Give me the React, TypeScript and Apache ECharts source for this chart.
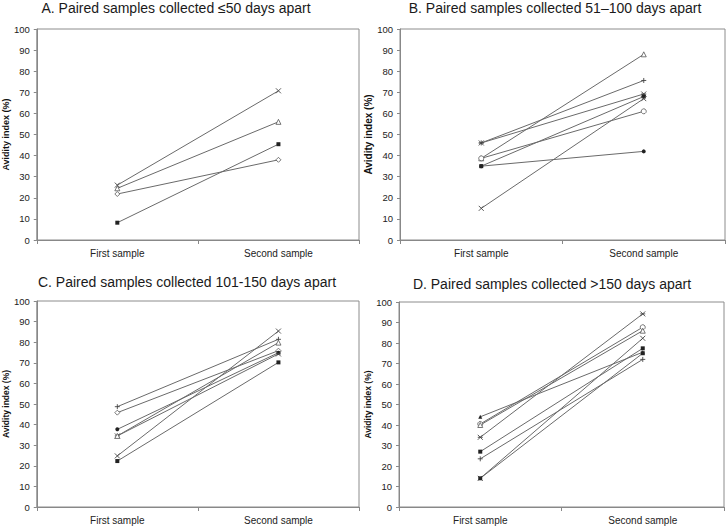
import React, { useEffect, useRef } from 'react';
import * as echarts from 'echarts';

const categories = ['First sample', 'Second sample'];
const yMin = 0;
const yMax = 100;
const yStep = 10;
const yAxisName = 'Avidity index (%)';

const titles = [
  'A. Paired samples collected ≤50 days apart',
  'B. Paired samples collected 51–100 days apart',
  'C. Paired samples collected 101-150 days apart',
  'D. Paired samples collected >150 days apart',
];

// Panel A (<=50 days)
const aCross = [26, 70.7];
const aTriangle = [24.5, 56];
const aDiamond = [21.8, 38];
const aSquare = [8.2, 45.4];

// Panel B (51-100 days)
const bPlus = [46, 75.6];
const bStar = [46, 69.2];
const bTriangle = [38.7, 88];
const bCircle = [38.7, 61];
const bSquare = [35, 68];
const bDot = [35, 42];
const bCross = [15, 67];

// Panel C (101-150 days)
const cPlus = [48.7, 81.4];
const cDiamond = [45.8, 75.9];
const cDot = [37.7, 74.9];
const cStar = [34.5, 74.3];
const cTriangle = [34.5, 79.8];
const cCross = [24.8, 85.4];
const cSquare = [22.3, 70.2];

// Panel D (>150 days)
const dTriangleFilled = [44, 75.5];
const dCircle = [40.5, 87.7];
const dTriangle = [40, 86];
const dStar = [34, 94.2];
const dSquare = [27, 77.4];
const dPlus = [23.5, 72];
const dCross = [14, 82.3];
const dSquare2 = [14, 75];

const SYM: Record<string, string> = {
  cross: 'path://M0,0L10,10M10,0L0,10',
  plus: 'path://M5,0L5,10M0,5L10,5',
  star: 'path://M0,0L10,10M10,0L0,10M0,5L10,5',
  square: 'rect',
  dot: 'circle',
  triFilled: 'triangle',
  circle: 'path://M5,0A5,5,0,1,1,4.99,0Z',
  triangle: 'path://M5,0L10,10L0,10Z',
  diamond: 'path://M5,0L10,5L5,10L0,5Z',
};
const HOLLOW = ['circle', 'triangle', 'diamond'];
const FILLED = ['square', 'dot', 'triFilled'];

const panels: { data: number[]; sym: string }[][] = [
  [
    { data: aCross, sym: 'cross' },
    { data: aTriangle, sym: 'triangle' },
    { data: aDiamond, sym: 'diamond' },
    { data: aSquare, sym: 'square' },
  ],
  [
    { data: bPlus, sym: 'plus' },
    { data: bStar, sym: 'star' },
    { data: bTriangle, sym: 'triangle' },
    { data: bCircle, sym: 'circle' },
    { data: bSquare, sym: 'square' },
    { data: bDot, sym: 'dot' },
    { data: bCross, sym: 'cross' },
  ],
  [
    { data: cPlus, sym: 'plus' },
    { data: cDiamond, sym: 'diamond' },
    { data: cDot, sym: 'dot' },
    { data: cStar, sym: 'star' },
    { data: cTriangle, sym: 'triangle' },
    { data: cCross, sym: 'cross' },
    { data: cSquare, sym: 'square' },
  ],
  [
    { data: dTriangleFilled, sym: 'triFilled' },
    { data: dCircle, sym: 'circle' },
    { data: dTriangle, sym: 'triangle' },
    { data: dStar, sym: 'star' },
    { data: dSquare, sym: 'square' },
    { data: dPlus, sym: 'plus' },
    { data: dCross, sym: 'cross' },
    { data: dSquare2, sym: 'square' },
  ],
];

const grids = [
  { left: 34, top: 29, width: 325, height: 211 },
  { left: 400, top: 29, width: 325, height: 211 },
  { left: 33, top: 301, width: 326, height: 206 },
  { left: 399, top: 302, width: 325, height: 205 },
];
const titlePos = [
  [176, 8],
  [555, 8],
  [187, 282],
  [552, 284],
];
const nameSizes = [9, 10, 8.5, 8.5];

const FONT = '"Liberation Sans", Arial, sans-serif';

export default function App() {
  const ref = useRef<HTMLDivElement>(null);
  useEffect(() => {
    if (!ref.current) return;
    const chart = echarts.init(ref.current, null, { renderer: 'svg' });
    const series: any[] = [];
    panels.forEach((p, gi) => {
      p.forEach((s) => {
        const hollow = HOLLOW.includes(s.sym);
        const filled = FILLED.includes(s.sym);
        series.push({
          type: 'line',
          xAxisIndex: gi,
          yAxisIndex: gi,
          data: s.data,
          symbol: SYM[s.sym],
          symbolSize: filled ? 4 : 5,
          symbolKeepAspect: true,
          lineStyle: { color: '#6a6a6a', width: 1 },
          itemStyle: filled
            ? { color: '#222', borderWidth: 0 }
            : hollow
            ? { color: '#fff', borderColor: '#555', borderWidth: 0.8 }
            : { color: '#444', borderColor: '#444', borderWidth: 0.9 },
          emphasis: { disabled: true },
          silent: true,
          z: 3,
        });
      });
    });
    chart.setOption({
      animation: false,
      backgroundColor: '#fff',
      textStyle: { fontFamily: FONT },
      grid: grids.map((g) => ({ ...g, show: true, borderColor: '#8c8c8c', borderWidth: 1, containLabel: false })),
      xAxis: grids.map((_, i) => ({
        type: 'category',
        gridIndex: i,
        data: categories,
        boundaryGap: true,
        axisLine: { show: true, lineStyle: { color: '#888', width: 1 } },
        axisTick: { show: true, length: 4, lineStyle: { color: '#888' } },
        axisLabel: { fontSize: 10, color: '#222', margin: 8, fontFamily: FONT },
        splitLine: { show: false },
      })),
      yAxis: grids.map((_, i) => ({
        type: 'value',
        gridIndex: i,
        min: yMin,
        max: yMax,
        interval: yStep,
        name: yAxisName,
        nameLocation: 'middle',
        nameGap: 24,
        nameTextStyle: { fontWeight: 'bold', fontSize: nameSizes[i], color: '#111', fontFamily: FONT },
        axisLine: { show: true, lineStyle: { color: '#888', width: 1 } },
        axisTick: { show: true, length: 3, lineStyle: { color: '#888' } },
        axisLabel: { fontSize: 9.5, color: '#222', margin: 7, fontFamily: FONT },
        splitLine: { show: false },
      })),
      graphic: titles.map((t, i) => ({
        type: 'text',
        x: titlePos[i][0],
        y: titlePos[i][1],
        style: {
          text: t,
          fontSize: 14,
          fontFamily: FONT,
          fill: '#1a1a1a',
          textAlign: 'center',
          textVerticalAlign: 'middle',
        },
      })),
      series,
    });
    return () => chart.dispose();
  }, []);
  return (
    <div
      ref={ref}
      style={{ position: 'fixed', left: 0, top: 0, width: 728, height: 526, background: '#fff' }}
    />
  );
}
